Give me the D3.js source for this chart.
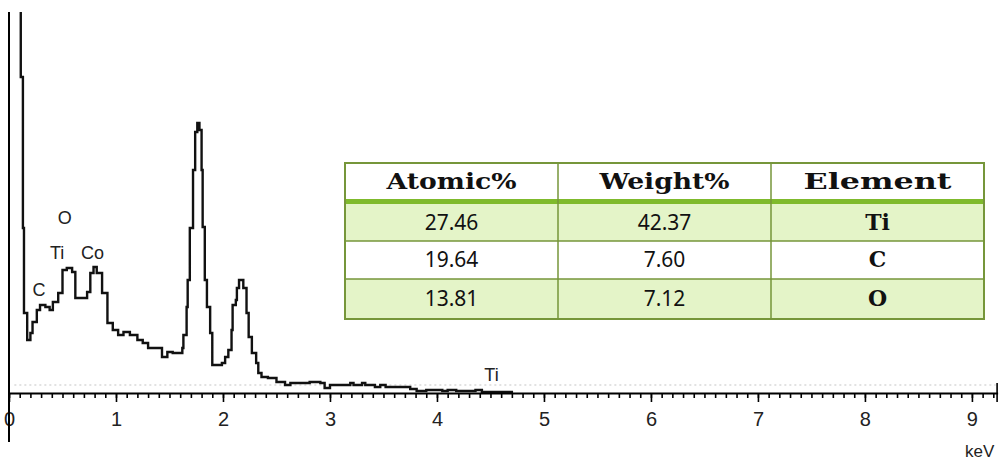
<!DOCTYPE html>
<html>
<head>
<meta charset="utf-8">
<script src="https://cdn.jsdelivr.net/npm/d3@7"></script>
<style>
  body { margin: 0; background: #fff; }
</style>
</head>
<body>
<div id="chart"></div>
<script>
// EDS spectrum (energy in keV, counts in arbitrary units)
var energy = [0.10, 0.11, 0.13, 0.14, 0.17, 0.20, 0.22, 0.26, 0.29, 0.34, 0.38, 0.41, 0.46, 0.50, 0.54, 0.59,
  0.62, 0.68, 0.73, 0.76, 0.79, 0.82, 0.87, 0.92, 0.97, 1.02, 1.07, 1.13, 1.20, 1.25, 1.30, 1.38,
  1.43, 1.48, 1.53, 1.62, 1.63, 1.66, 1.67, 1.69, 1.72, 1.74, 1.76, 1.78, 1.80, 1.81, 1.83, 1.85,
  1.88, 1.90, 1.99, 2.02, 2.05, 2.08, 2.09, 2.12, 2.13, 2.15, 2.19, 2.22, 2.24, 2.27, 2.31, 2.33,
  2.36, 2.42, 2.50, 2.58, 2.63, 2.81, 2.91, 2.95, 3.00, 3.19, 3.22, 3.30, 3.33, 3.42, 3.47, 3.52,
  3.75, 3.81, 3.90, 4.05, 4.10, 4.18, 4.36, 4.42, 4.70];
var counts = [6000, 3160, 1650, 800, 530, 600, 710, 830, 880, 860, 830, 910, 1000, 1230, 1250, 1210,
  950, 950, 1010, 1200, 1260, 1200, 1000, 700, 630, 580, 610, 580, 530, 500, 450, 450,
  360, 410, 400, 450, 580, 860, 1130, 1650, 2230, 2610, 2700, 2630, 2230, 1660, 1130, 860,
  600, 280, 300, 360, 430, 630, 880, 930, 1050, 1130, 1050, 800, 560, 400, 300, 200,
  160, 150, 110, 80, 100, 110, 100, 50, 80, 100, 80, 100, 80, 60, 80, 60,
  40, 20, 30, 20, 30, 20, 30, 10, 0];

// peak labels: element, line energy (keV), label height (counts)
var peakNames = ["C", "Ti", "O", "Co", "Ti"];
var peakEnergy = [0.28, 0.45, 0.52, 0.78, 4.51];
var peakLevel = [970, 1340, 1690, 1340, 120];

var xTicks = [0, 1, 2, 3, 4, 5, 6, 7, 8, 9];
var xMax = 9.24, yMax = 3810;

// composition table
var tableHeader = ["Atomic%", "Weight%", "Element"];
var atomicPct = ["27.46", "19.64", "13.81"];
var weightPct = ["42.37", "7.60", "7.12"];
var elements = ["Ti", "C", "O"];

var W = 1001, H = 460;
var svg = d3.select("#chart").append("svg")
  .attr("width", W)
  .attr("height", H)
  .style("font-family", "'Liberation Sans', Arial, sans-serif");

var x = d3.scaleLinear().domain([0, xMax]).range([9, 997.6]);
var y = d3.scaleLinear().domain([0, yMax]).range([393, 12]);

svg.append("clipPath").attr("id", "plotclip")
  .append("rect")
  .attr("x", x(0)).attr("y", y(yMax))
  .attr("width", x(xMax) - x(0)).attr("height", y(0) - y(yMax) + 2);

// faint dotted trace near the baseline
svg.append("line")
  .attr("x1", x(0.05)).attr("x2", x(xMax) - 2)
  .attr("y1", y(80)).attr("y2", y(80))
  .attr("stroke", "#d9d9d9")
  .attr("stroke-width", 1.5)
  .attr("stroke-dasharray", "2,3");

var pts = energy.map(function(e, i) { return [e, counts[i]]; });

var line = d3.line()
  .x(function(d) { return x(d[0]); })
  .y(function(d) { return y(d[1]); })
  .curve(d3.curveStepAfter);

svg.append("path")
  .datum(pts)
  .attr("clip-path", "url(#plotclip)")
  .attr("fill", "none")
  .attr("stroke", "#111")
  .attr("stroke-width", 2.4)
  .attr("stroke-linejoin", "miter")
  .attr("d", line);

// x axis: minor ticks every 0.1 keV, labelled ticks at whole keV
var minorAxis = d3.axisBottom(x)
  .tickValues(d3.range(0, 93).map(function(i) { return i / 10; }))
  .tickSize(5)
  .tickSizeOuter(0)
  .tickFormat("");

var majorAxis = d3.axisBottom(x)
  .tickValues(xTicks)
  .tickSize(9)
  .tickSizeOuter(0)
  .tickPadding(10)
  .tickFormat(d3.format("d"));

var gMinor = svg.append("g")
  .attr("transform", "translate(0," + y(0) + ")")
  .call(minorAxis);
gMinor.select(".domain").attr("stroke", "#000").attr("stroke-width", 2);
gMinor.selectAll(".tick line").attr("stroke", "#000").attr("stroke-width", 1.6);

var gMajor = svg.append("g")
  .attr("transform", "translate(0," + y(0) + ")")
  .call(majorAxis);
gMajor.select(".domain").remove();
gMajor.selectAll(".tick line").attr("stroke", "#000").attr("stroke-width", 1.6);
gMajor.selectAll(".tick text")
  .attr("fill", "#222")
  .style("font-size", "20px")
  .style("font-family", "'Liberation Sans', Arial, sans-serif");

// end marker of the energy axis
svg.append("line")
  .attr("x1", x(xMax) - 0.5).attr("x2", x(xMax) - 0.5)
  .attr("y1", y(0) - 10).attr("y2", y(0) + 9)
  .attr("stroke", "#000").attr("stroke-width", 1.6);

// vertical axis line
svg.append("line")
  .attr("x1", x(0)).attr("x2", x(0))
  .attr("y1", y(yMax)).attr("y2", y(0) + 49)
  .attr("stroke", "#000").attr("stroke-width", 2);

svg.append("text")
  .attr("x", 965).attr("y", 457)
  .attr("fill", "#222")
  .style("font-size", "17px")
  .text("keV");

// element labels on the peaks
svg.selectAll(".peak")
  .data(peakNames)
  .enter().append("text")
  .attr("class", "peak")
  .attr("x", function(d, i) { return x(peakEnergy[i]); })
  .attr("y", function(d, i) { return y(peakLevel[i]); })
  .attr("text-anchor", "middle")
  .attr("fill", "#222")
  .style("font-size", "18px")
  .text(function(d) { return d; });

// ---- table ----
var tx0 = 345, tx1 = 984;
var rowTop = [163, 204, 241, 279], rowBot = [199, 241, 279, 319];
var col = d3.scaleBand().domain([0, 1, 2]).range([tx0, tx1]);
var rowFill = ["#ffffff", "#e4f4c8", "#ffffff", "#e4f4c8"];
var border = "#76963a";

var tbl = svg.append("g");
tbl.selectAll(".rowbg")
  .data(rowTop)
  .enter().append("rect")
  .attr("x", tx0).attr("width", tx1 - tx0)
  .attr("y", function(d) { return d; })
  .attr("height", function(d, i) { return rowBot[i] - d; })
  .attr("fill", function(d, i) { return rowFill[i]; });

// horizontal rules
tbl.selectAll(".hrule")
  .data(rowTop.slice(2))
  .enter().append("line")
  .attr("x1", tx0).attr("x2", tx1)
  .attr("y1", function(d) { return d; }).attr("y2", function(d) { return d; })
  .attr("stroke", border).attr("stroke-width", 1.5);

// thick header rule
tbl.append("rect")
  .attr("x", tx0).attr("width", tx1 - tx0)
  .attr("y", rowBot[0]).attr("height", rowTop[1] - rowBot[0])
  .attr("fill", "#7fba2c");

// column rules
tbl.selectAll(".vrule")
  .data([1, 2])
  .enter().append("line")
  .attr("x1", function(d) { return col(d); }).attr("x2", function(d) { return col(d); })
  .attr("y1", rowTop[0]).attr("y2", rowBot[3])
  .attr("stroke", border).attr("stroke-width", 1.5);

tbl.append("rect")
  .attr("x", tx0).attr("y", rowTop[0])
  .attr("width", tx1 - tx0).attr("height", rowBot[3] - rowTop[0])
  .attr("fill", "none").attr("stroke", border).attr("stroke-width", 2);

var headW = [130, 130, 148];
tbl.selectAll(".head")
  .data(tableHeader)
  .enter().append("text")
  .attr("x", function(d, i) { return col(i) + col.bandwidth() / 2; })
  .attr("y", 189)
  .attr("text-anchor", "middle")
  .attr("textLength", function(d, i) { return headW[i]; })
  .attr("lengthAdjust", "spacingAndGlyphs")
  .style("font-family", "'DejaVu Serif', serif")
  .style("font-weight", "bold")
  .style("font-size", "22px")
  .attr("fill", "#111")
  .text(function(d) { return d; });

var bodyRows = atomicPct.map(function(a, i) { return [a, weightPct[i], elements[i]]; });
bodyRows.forEach(function(r, ri) {
  var mid = (rowTop[ri + 1] + rowBot[ri + 1]) / 2;
  tbl.selectAll(".cell" + ri)
    .data(r)
    .enter().append("text")
    .attr("x", function(d, i) { return col(i) + col.bandwidth() / 2; })
    .attr("y", mid + 7)
    .attr("text-anchor", "middle")
    .attr("fill", "#111")
    .style("font-family", function(d, i) { return i == 2 ? "'DejaVu Serif', serif" : "'Noto Sans', sans-serif"; })
    .style("font-weight", function(d, i) { return i == 2 ? "bold" : "normal"; })
    .style("font-size", function(d, i) { return i == 2 ? "22px" : "21px"; })
    .text(function(d) { return d; });
});
</script>
</body>
</html>
